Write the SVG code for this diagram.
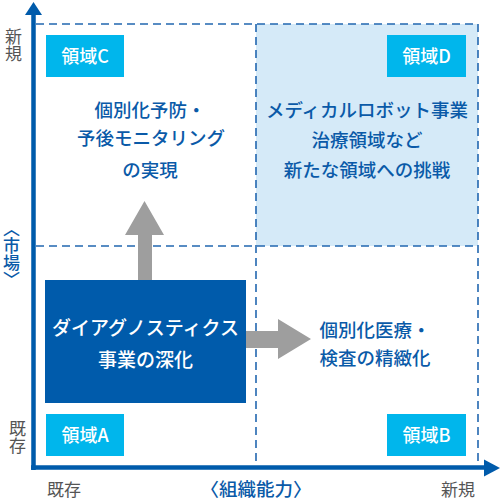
<svg xmlns="http://www.w3.org/2000/svg" width="500" height="500" viewBox="0 0 500 500">
<defs>
<style>
text{font-family:"Noto Sans CJK JP","Noto Sans",sans-serif;font-weight:500;}
.dash{stroke:#2267b0;stroke-width:1.6;stroke-dasharray:8 5;fill:none;}
.axis{stroke:#005bab;stroke-width:4.5;fill:none;}
.tag{fill:#00b6ec;}
.tagt{fill:#fff;font-size:18px;text-anchor:middle;}
.blue{fill:#0a5aa8;font-size:18.5px;text-anchor:middle;}
.gray{fill:#555;font-size:17px;text-anchor:middle;font-weight:400;}
.vert{writing-mode:vertical-rl;}
.arrow{fill:#9e9e9e;}
</style>
</defs>
<rect width="500" height="500" fill="#fff"/>
<rect x="256" y="24" width="222" height="222" fill="#d5eaf8"/>
<g id="grid">
<path class="dash" d="M36 24H478M36 246H478M256 24V466M478 24V466"/>
</g>
<g id="axes">
<path class="axis" d="M33.5 470V13M31 467.5H486"/>
<polygon points="33.5,2 42,15 25,15" fill="#005bab"/>
<polygon points="500,468 484,459.5 484,476.5" fill="#005bab"/>
</g>
<g id="connectors">
<polygon class="arrow" points="138,282 138,235 125,235 144.5,201 164,235 152,235 152,282"/>
<polygon class="arrow" points="244,331 278,331 278,319 311,339 278,359 278,348 244,348"/>
</g>
<g id="node-A2">
<rect x="45" y="280" width="201" height="123" fill="#005bab"/>
<text x="145.5" y="335" fill="#fff" font-size="19" text-anchor="middle">ダイアグノスティクス</text>
<text x="145.5" y="367" fill="#fff" font-size="19" text-anchor="middle">事業の深化</text>
</g>
<g id="tag-C"><rect class="tag" x="46" y="35" width="78" height="42"/><text class="tagt" x="85" y="62.5">領域C</text></g>
<g id="tag-D"><rect class="tag" x="387" y="35" width="79" height="42"/><text class="tagt" x="426.5" y="62.5">領域D</text></g>
<g id="tag-A"><rect class="tag" x="46" y="414" width="78" height="42"/><text class="tagt" x="85" y="441.5">領域A</text></g>
<g id="tag-B"><rect class="tag" x="387" y="414" width="79" height="42"/><text class="tagt" x="426.5" y="441.5">領域B</text></g>
<g id="node-C">
<text class="blue" x="150" y="117">個別化予防・</text>
<text class="blue" x="151" y="145">予後モニタリング</text>
<text class="blue" x="150" y="177">の実現</text>
</g>
<g id="node-D">
<text class="blue" x="367" y="117" font-size="19">メディカルロボット事業</text>
<text class="blue" x="367" y="147" font-size="19">治療領域など</text>
<text class="blue" x="367" y="177" font-size="19">新たな領域への挑戦</text>
</g>
<g id="node-B">
<text class="blue" x="375" y="337" font-size="19.5">個別化医療・</text>
<text class="blue" x="375" y="365" font-size="19.5">検査の精緻化</text>
</g>
<g id="labels">
<text class="gray vert" x="13.5" y="28" style="text-anchor:start">新規</text>
<text class="gray vert" x="17.5" y="420" style="text-anchor:start">既存</text>
<text class="vert" x="11.5" y="220" fill="#0a5aa8" font-size="17">〈市場〉</text>
<text class="gray" x="64" y="496" font-size="18">既存</text>
<text class="blue" x="256" y="496" font-size="19.5">〈組織能力〉</text>
<text class="gray" x="458" y="496" font-size="18">新規</text>
</g>
</svg>
